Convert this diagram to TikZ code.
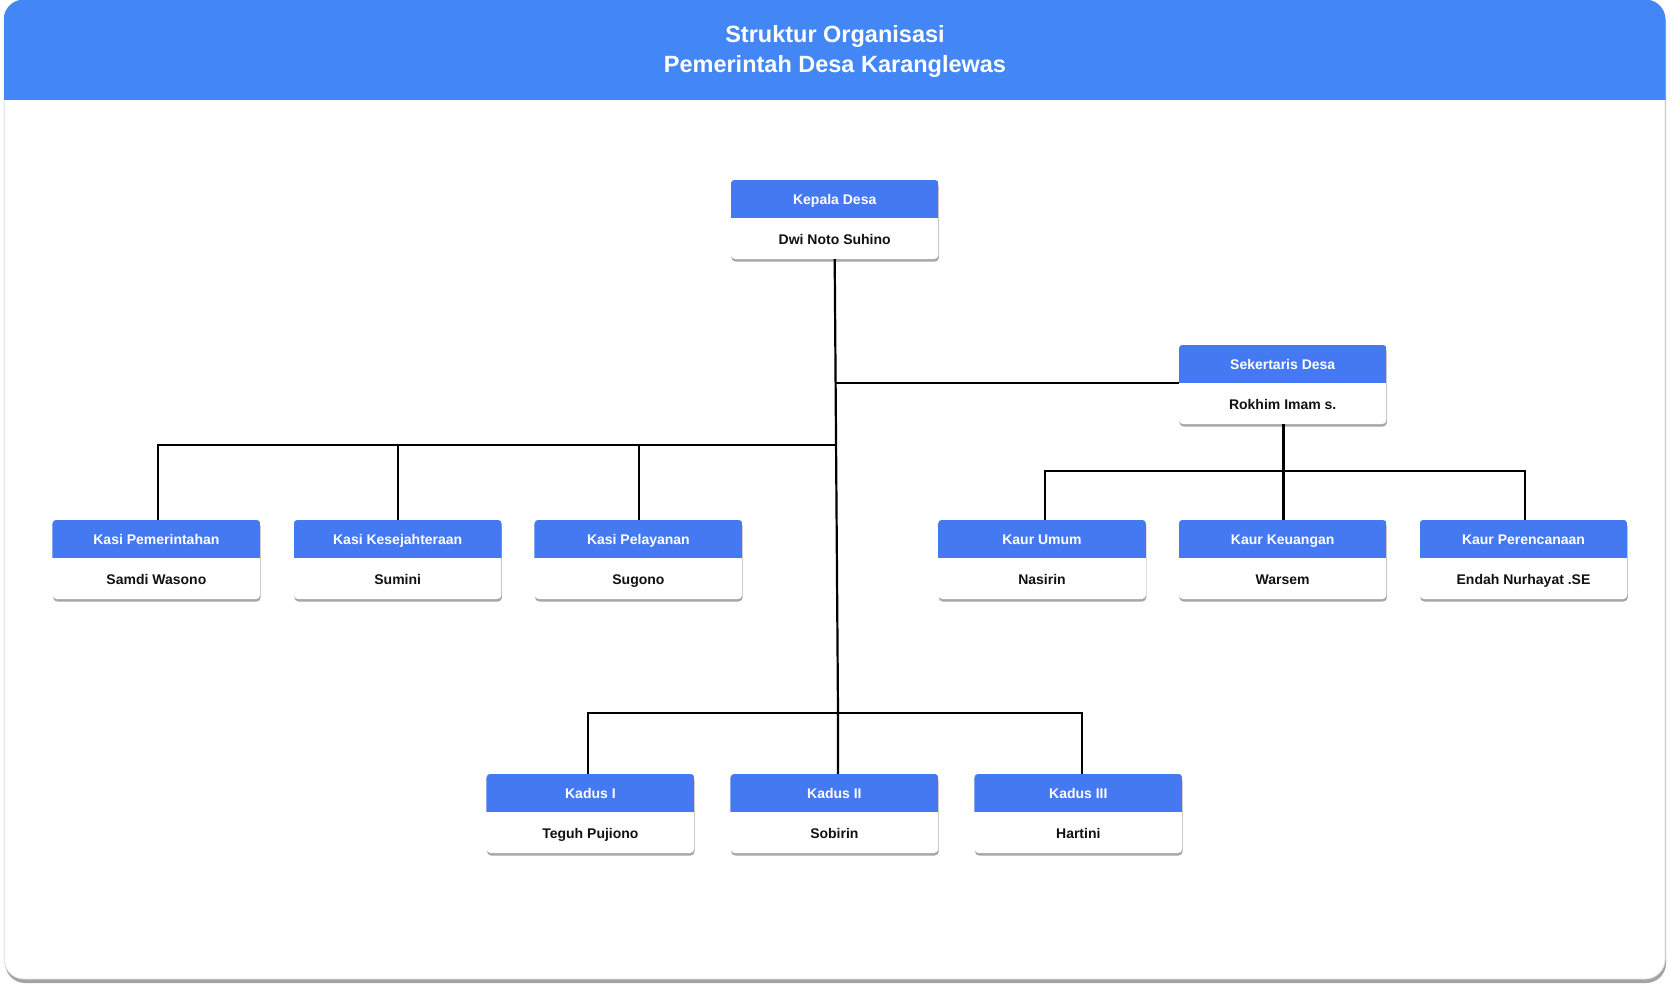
\documentclass[tikz,border=0pt]{standalone}
\usepackage{fontspec}
\setmainfont{Liberation Sans}
\usetikzlibrary{calc,shadows}
\definecolor{titlebar}{RGB}{66,135,245}
\definecolor{hdrblue}{RGB}{68,121,242}
\definecolor{nametxt}{RGB}{17,17,17}
\tikzset{
  card/.style={draw=black!12, line width=0.8pt, fill=white, rounded corners=20pt,
    minimum width=1661pt, minimum height=979pt, inner sep=0pt,
    drop shadow={shadow xshift=1pt, shadow yshift=-4pt, fill=black!45, opacity=0.8}},
  orgshape/.style={fill=white, rounded corners=4pt, minimum width=207.5pt,
    minimum height=79pt, inner sep=0pt,
    drop shadow={shadow xshift=0.5pt, shadow yshift=-2.5pt, fill=black!38, opacity=0.9}},
  hdrtext/.style={anchor=base, text=white, inner sep=0pt,
    font=\fontsize{14}{16}\selectfont\bfseries},
  nametext/.style={anchor=base, text=nametxt, inner sep=0pt,
    font=\fontsize{14}{16}\selectfont\bfseries},
  titletext/.style={anchor=base, text=white, inner sep=0pt,
    font=\fontsize{23.5}{28}\selectfont\bfseries},
  conn/.style={draw=black, line width=2.2pt, line join=miter}
}
\newcommand{\orgbox}[5]{%
  \node[orgshape] (#1) at (#2,#3+39.5) {};
  \begin{scope}
    \clip[rounded corners=4pt] (#1.north west) rectangle (#1.south east);
    \fill[hdrblue] (#1.north west) rectangle ($(#1.north east)+(0,38)$);
  \end{scope}
  \node[hdrtext] (#1-t) at ($(#1.north)+(0,24.5)$) {#4};
  \node[nametext] (#1-n) at ($(#1.north)+(0,64.5)$) {#5};
}
\begin{document}
\begin{tikzpicture}[x=1pt,y=-1pt]
\useasboundingbox (0,0) rectangle (1670,990);
\fill[white] (0,0) rectangle (1670,990);
% card
\node[card] (card) at (834.6,489.5) {};
\begin{scope}
  \clip[rounded corners=20pt] (card.north west) rectangle (card.south east);
  \fill[titlebar] (card.north west) rectangle ($(card.north east)+(0,100)$);
\end{scope}
\node[titletext] (title1) at (835,42.3) {Struktur Organisasi};
\node[titletext] (title2) at (835,72.3) {Pemerintah Desa Karanglewas};

% connector junctions
\coordinate (trunkbot) at (838,712.7);
\coordinate (sj) at (835.6,383);
\coordinate (kj) at (836.1,445.2);
\coordinate (kub) at (1283.4,470.8);

% boxes
\orgbox{kd}{834.7}{180}{Kepala Desa}{Dwi Noto Suhino}
\orgbox{sk}{1282.7}{345}{Sekertaris Desa}{Rokhim Imam s.}
\orgbox{ks1}{156.4}{520}{Kasi Pemerintahan}{Samdi Wasono}
\orgbox{ks2}{397.7}{520}{Kasi Kesejahteraan}{Sumini}
\orgbox{ks3}{638.4}{520}{Kasi Pelayanan}{Sugono}
\orgbox{ku1}{1042}{520}{Kaur Umum}{Nasirin}
\orgbox{ku2}{1282.7}{520}{Kaur Keuangan}{Warsem}
\orgbox{ku3}{1523.5}{520}{Kaur Perencanaan}{Endah Nurhayat .SE}
\orgbox{kds1}{590.4}{774}{Kadus I}{Teguh Pujiono}
\orgbox{kds2}{834.4}{774}{Kadus II}{Sobirin}
\orgbox{kds3}{1078.3}{774}{Kadus III}{Hartini}

% drop points on the boxes
\coordinate (ks1d) at ($(ks1.north)+(1.2,0)$);
\coordinate (ks2d) at ($(ks2.north)+(0.6,0)$);
\coordinate (ks3d) at ($(ks3.north)+(0.6,0)$);
\coordinate (ku1d) at ($(ku1.north)+(2.9,0)$);
\coordinate (ku2d) at ($(ku2.north)+(0.7,0)$);
\coordinate (ku3d) at ($(ku3.north)+(1.7,0)$);
\coordinate (kds1d) at ($(kds1.north)+(-2.7,0)$);
\coordinate (kds3d) at ($(kds3.north)+(3.8,0)$);

% trunk
\draw[conn] (kd.south) -- (trunkbot) -- (trunkbot |- kds2.north);
% sekretaris
\draw[conn] (sj) -- (sj -| sk.west);
% kasi
\draw[conn] (kj) -- (kj -| ks1d) -- (ks1d);
\draw[conn] (kj -| ks2d) -- (ks2d);
\draw[conn] (kj -| ks3d) -- (ks3d);
% kaur
\draw[conn] (sk.south -| ku2d) -- (ku2d);
\draw[conn] (ku1d) -- (ku1d |- kub) -- (ku3d |- kub) -- (ku3d);
% kadus
\draw[conn] (kds1d) -- (kds1d |- trunkbot) -- (kds3d |- trunkbot) -- (kds3d);
\end{tikzpicture}
\end{document}
